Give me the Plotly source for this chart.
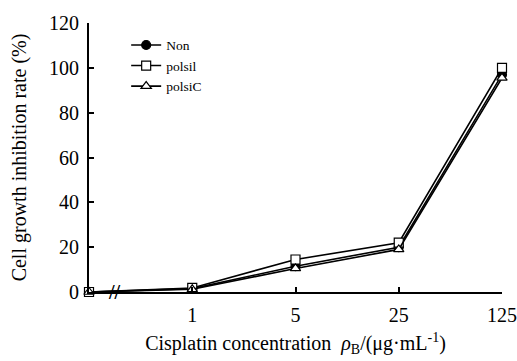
import plotly.graph_objects as go

x_pos = [0, 1, 2, 3, 4]
tick_vals = [1, 2, 3, 4]
tick_text = ["1", "5", "25", "125"]
non = [0, 1.5, 11.5, 20, 97]
polsil = [0, 1.8, 14.5, 22, 100]
polsic = [0, 1.2, 10.5, 19, 95.5]

FONT = "Liberation Serif"

fig = go.Figure()
series = [("Non", non, "circle", "black"), ("polsil", polsil, "square", "white"),
          ("polsiC", polsic, "triangle-up", "white")]
for name, vals, sym, fillc in series:
    fig.add_trace(go.Scatter(
        x=x_pos, y=vals, name=name, mode="lines+markers", cliponaxis=False,
        line=dict(color="black", width=1.6),
        marker=dict(symbol=sym, size=9, color=fillc,
                    line=dict(color="black", width=1.2)),
    ))

fig.add_annotation(x=0.25, y=0, text="<b>//</b>", showarrow=False,
                   font=dict(family=FONT, size=20, color="black"),
                   xref="x", yref="y")

fig.update_layout(
    width=517, height=361,
    margin=dict(l=89, r=15, t=23, b=69),
    paper_bgcolor="white", plot_bgcolor="white",
    font=dict(family=FONT, color="black", size=20),
    showlegend=True,
    legend=dict(x=0.09, y=0.975, xanchor="left", yanchor="top",
                bgcolor="rgba(0,0,0,0)", font=dict(size=13.5, family=FONT),
                itemwidth=30, tracegroupgap=0),
    xaxis=dict(range=[0, 4], tickvals=tick_vals, ticktext=tick_text, automargin=False,
               showline=True, linecolor="black", linewidth=2,
               ticks="inside", ticklen=5, tickwidth=2, tickcolor="black",
               showgrid=False, zeroline=False, ticklabelstandoff=4,
               tickfont=dict(size=20, family=FONT),
               title=dict(text="Cisplatin concentration  <i>ρ</i><sub>B</sub>/(μg·mL<sup>-1</sup>)",
                          font=dict(size=20, family=FONT), standoff=11)),
    yaxis=dict(range=[0, 120], tickvals=[0, 20, 40, 60, 80, 100, 120], automargin=False,
               showline=True, linecolor="black", linewidth=2,
               ticks="inside", ticklen=5, tickwidth=2, tickcolor="black",
               showgrid=False, zeroline=False, ticklabelstandoff=4,
               tickfont=dict(size=20, family=FONT),
               title=dict(text="Cell growth inhibition rate (%)", font=dict(size=20, family=FONT), standoff=17)),
)

fig.write_html("out.html", post_script="document.body.style.margin='0';",
               config={"displayModeBar": False})
